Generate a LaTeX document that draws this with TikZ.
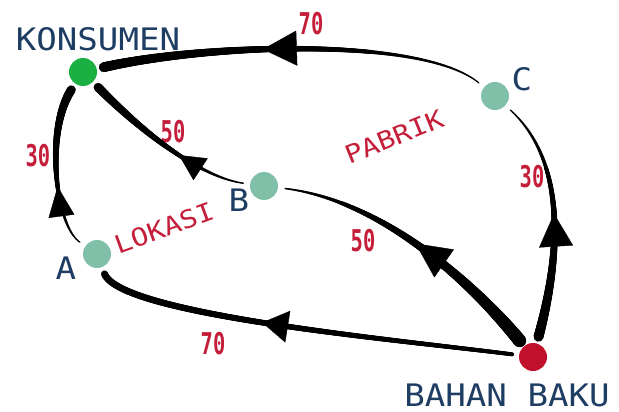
\documentclass[tikz,border=0pt]{standalone}
\usepackage{fontspec}
\usetikzlibrary{arrows.meta, decorations.markings}

\newfontfamily\labelfont[FakeStretch=1.1]{DejaVu Sans Mono}
\newfontfamily\wordfont[FakeStretch=1.15]{DejaVu Sans Mono}
\newfontfamily\numfont[FakeStretch=0.68]{DejaVu Sans Mono}

\definecolor{navy}{HTML}{1E3D63}
\definecolor{crimson}{HTML}{C41E3A}
\definecolor{leaf}{HTML}{1AB042}
\definecolor{sea}{HTML}{80C0A8}
\definecolor{blood}{HTML}{C0102C}

\tikzset{
  dot/.style={circle, fill=#1, minimum size=28pt, inner sep=0pt, outer sep=7pt},
  place/.style={text=navy, inner sep=0pt, font=\labelfont\fontsize{31}{31}\selectfont},
  cost/.style={text=crimson, inner sep=0pt, font=\numfont\bfseries\fontsize{30}{30}\selectfont},
  group/.style={text=crimson, inner sep=0pt, font=\wordfont\fontsize{25}{25}\selectfont},
  % brush stroke: width #1 at the start, #2 at the end
  brush/.style 2 args={postaction={decorate, decoration={markings,
    mark=between positions 0 and 1 step 0.6pt with {
      \pgfmathsetmacro\bw{(#1+(#2-#1)*\pgfkeysvalueof{/pgf/decoration/mark info/distance from start}/\pgfdecoratedpathlength)/2}
      \fill (0,0) circle (\bw pt);}}}},
  % arrow head at position #1, length #2, width #3
  head/.style n args={3}{postaction={decorate, decoration={markings,
    mark=at position #1 with {\arrow{Triangle[length=#2pt, width=#3pt]}}}}},
}

\begin{document}
\begin{tikzpicture}[x=1pt, y=-1pt]
\useasboundingbox (0,0) rectangle (619,412);

\node[dot=leaf] (K) at (83,72) {};
\node[dot=sea] (C) at (495,96) {};
\node[dot=sea] (B) at (264,186) {};
\node[dot=sea] (A) at (97,254) {};
\node[dot=blood] (BB) at (533,357) {};

\node[place] (lK) at (98,39) {KONSUMEN};
\node[place] (lC) at (522,79) {C};
\node[place] (lB) at (239,200) {B};
\node[place] (lA) at (66,268) {A};
\node[place] (lBB) at (507,395) {BAHAN BAKU};

\node[cost] (c1) at (311,24) {70};
\node[cost] (c2) at (173,132) {50};
\node[cost] (c3) at (38,156) {30};
\node[cost] (c4) at (532,177) {30};
\node[cost] (c5) at (363,241) {50};
\node[cost] (c6) at (213,344) {70};

\node[group, rotate=22] (pabrik) at (394,137) {PABRIK};
\node[group, rotate=20] (lokasi) at (164,228) {LOKASI};

\path[brush={1.5}{10}, head={0.58}{34}{35}] (C) .. controls (420,35) and (200,45) .. (K);
\path[brush={1.5}{9}, head={0.38}{30}{26}] (A) .. controls (55,225) and (45,130) .. (K);
\path[brush={1.5}{9}, head={0.4}{26}{26}] (B) .. controls (205,178) and (150,140) .. (K);
\path[brush={4}{7}, head={0.6}{26}{32}] (BB) .. controls (400,340) and (120,315) .. (A);
\path[brush={13}{1.5}, head={0.5}{35}{34}] (BB) .. controls (470,280) and (380,200) .. (B);
\path[brush={10}{1.5}, head={0.52}{33}{34}] (BB) .. controls (562,250) and (565,160) .. (C);
\end{tikzpicture}
\end{document}
